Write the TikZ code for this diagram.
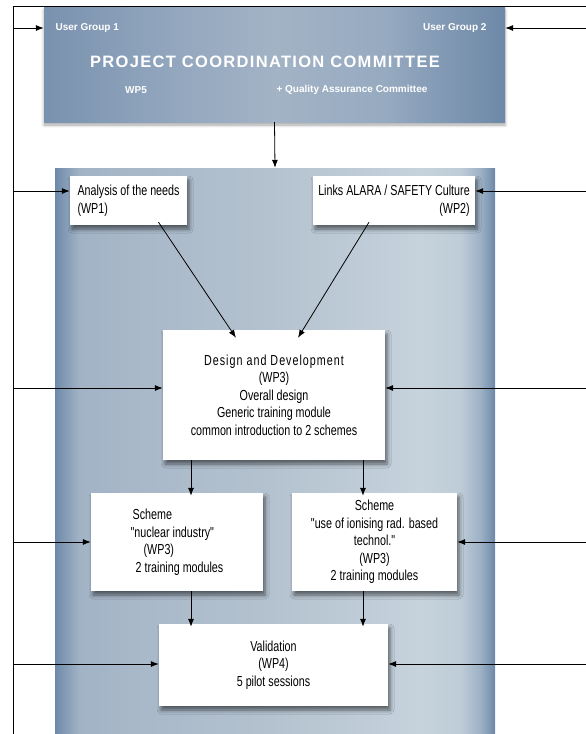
\documentclass[tikz,border=0pt]{standalone}
\usepackage{fontspec}
\setmainfont{Liberation Sans}
\newfontfamily\titlefont[LetterSpace=8]{Liberation Sans}
\newfontfamily\narrowfont[FakeStretch=0.74]{Liberation Sans}
\newfontfamily\spacefont[FakeStretch=0.74, LetterSpace=7]{Liberation Sans}
\usetikzlibrary{arrows.meta, positioning, calc, shadows, shadows.blur}

\definecolor{edgeblue}{HTML}{6C88A9}
\definecolor{panA}{HTML}{7A93B0}
\definecolor{panB}{HTML}{A2B3C6}
\definecolor{panC}{HTML}{AAB9CA}
\definecolor{panD}{HTML}{B4C2CF}
\definecolor{panE}{HTML}{C6D3DD}
\definecolor{panF}{HTML}{BFCDD8}
\definecolor{panG}{HTML}{9EB2C6}
\definecolor{topA}{HTML}{7A92AF}
\definecolor{topB}{HTML}{8FA4BC}
\definecolor{topC}{HTML}{A3B3C6}
\definecolor{topD}{HTML}{96AAC0}
\definecolor{topE}{HTML}{6D88A8}

\pgfdeclarehorizontalshading{panelshade}{100bp}{color(0bp)=(edgeblue); color(25bp)=(edgeblue);
  color(25.6bp)=(panA); color(27.8bp)=(panB); color(35.8bp)=(panC); color(49.5bp)=(panD);
  color(66.5bp)=(panE); color(71bp)=(panF); color(73.3bp)=(panG); color(75bp)=(edgeblue);
  color(100bp)=(edgeblue)}
\pgfdeclarehorizontalshading{topshade}{100bp}{color(0bp)=(topA); color(25bp)=(topA);
  color(37bp)=(topB); color(50bp)=(topC); color(62bp)=(topD); color(75bp)=(topE);
  color(100bp)=(topE)}

\begin{document}
\begin{tikzpicture}[x=1pt, y=-1pt,
    box/.style={fill=white, inner sep=4pt, font=\narrowfont\fontsize{14.5}{17.5}\selectfont,
      blur shadow={shadow xshift=2pt, shadow yshift=-4pt, shadow blur radius=4pt, shadow opacity=55}},
    arr/.style={-{Latex[length=8pt,width=6pt]}, line width=0.8pt},
    head/.style={text=white, font=\bfseries\fontsize{10}{12}\selectfont}]
  \useasboundingbox (0,0) rectangle (586,734);
  \node[shade, shading=panelshade, minimum width=440pt, minimum height=572pt, inner sep=0pt] (panel) at (275,454) {};
  \node[shade, shading=topshade, minimum width=461pt, minimum height=115pt, inner sep=0pt,
    blur shadow={shadow xshift=0pt, shadow yshift=-3pt, shadow blur radius=3pt, shadow opacity=35}] (top) at (274.5,64.5) {};
  \draw[line width=0.8pt] (13,734) -- (13,6) -- (586,6);

  \node[head, anchor=west] (ug1) at (52,28) {User Group 1};
  \node[head, anchor=east] (ug2) at (490,28) {User Group 2};
  \node[text=white, font=\titlefont\bfseries\fontsize{16.5}{18}\selectfont] (pcc) at (265,62) {PROJECT COORDINATION COMMITTEE};
  \node[head] (wp5) at (136,90) {WP5};
  \node[head] (qac) at (352,90) {+ Quality Assurance Committee};

  \node[box, align=left, minimum width=117pt, minimum height=49pt] (wp1) at (128.5,200.5) {Analysis of the needs\\(WP1)};
  \node[box, align=right, minimum width=162pt, minimum height=49pt] (wp2) at (394,200.5) {Links ALARA / SAFETY Culture\\(WP2)};
  \node[box, align=center, minimum width=222pt, minimum height=130pt] (design) at (274,395)
    {{\spacefont Design and Development}\\(WP3)\\Overall design\\Generic training module\\common introduction to 2 schemes};
  \node[box, align=left, minimum width=172pt, minimum height=98pt] (sch1) at (177,542)
    {\hspace*{2pt}Scheme\\"nuclear industry"\\\hspace*{13pt}(WP3)\\\hspace*{5pt}2 training modules};
  \node[box, align=center, minimum width=165pt, minimum height=98pt] (sch2) at (374.5,542)
    {Scheme\\"use of ionising rad. based\\technol."\\(WP3)\\2 training modules};
  \node[box, align=center, minimum width=229pt, minimum height=82pt] (valid) at (273.5,665)
    {Validation\\(WP4)\\5 pilot sessions};

  \foreach \n/\y in {0/28,1/191,2/388,3/542,4/664} {
    \coordinate (l\n) at (13,\y);
    \coordinate (r\n) at (586,\y);
  }
  \draw[arr] (l0) -- (l0 -| top.west);
  \draw[arr] (r0) -- (r0 -| top.east);
  \draw[arr] (l1) -- (l1 -| wp1.west);
  \draw[arr] (r1) -- (r1 -| wp2.east);
  \draw[arr] (l2) -- (l2 -| design.west);
  \draw[arr] (r2) -- (r2 -| design.east);
  \draw[arr] (l3) -- (l3 -| sch1.west);
  \draw[arr] (r3) -- (r3 -| sch2.east);
  \draw[arr] (l4) -- (l4 -| valid.west);
  \draw[arr] (r4) -- (r4 -| valid.east);

  \draw[arr] (top.south) -- (panel.north);
  \draw[arr] ([xshift=30pt,yshift=3pt]wp1.south) -- ([xshift=-38pt,yshift=-8pt]design.north);
  \draw[arr] ([xshift=-25pt,yshift=3pt]wp2.south) -- ([xshift=24pt,yshift=-8pt]design.north);
  \draw[arr] ([xshift=-83pt]design.south) -- ([xshift=14pt,yshift=-3pt]sch1.north);
  \draw[arr] ([xshift=89pt]design.south) -- ([xshift=-11.5pt,yshift=-3pt]sch2.north);
  \draw[arr] ([xshift=14pt]sch1.south) -- ([xshift=-82.5pt,yshift=-3pt]valid.north);
  \draw[arr] ([xshift=-11.5pt]sch2.south) -- ([xshift=89.5pt,yshift=-3pt]valid.north);
\end{tikzpicture}
\end{document}
